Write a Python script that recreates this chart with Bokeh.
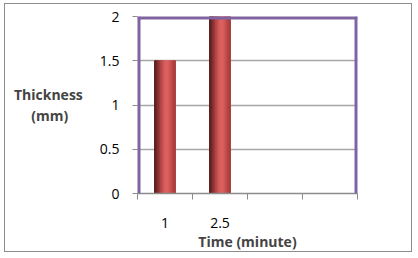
from bokeh.plotting import figure
from bokeh.models import FixedTicker, Span, Range1d
from bokeh.embed import file_html
from bokeh.resources import INLINE

# data
time_labels = ["1", "2.5", "", ""]
thickness = [1.5, 2.0]
y_ticks = [0, 0.5, 1, 1.5, 2]
y_tick_labels = ["0", "0.5", "1", "1.5", "2"]
y_title = "Thickness\n(mm)\u00a0\u00a0\u00a0\u00a0"
x_title = "Time (minute)"

n_slots = len(time_labels)
centers = [i + 0.5 for i in range(len(thickness))]

p = figure(width=408, height=249, output_backend="svg", toolbar_location=None,
           x_range=Range1d(0, n_slots), y_range=Range1d(0, 2),
           min_border_left=132, min_border_right=56, min_border_top=12, min_border_bottom=58)
p.background_fill_color = "white"
p.border_fill_color = "white"
p.outline_line_color = None
p.styles = {"border": "1px solid #8c8c8c", "margin-left": "4px", "margin-top": "3px"}

# cylinder-like shaded bars built from stripes
bar_w = 0.38
grad = ["#5a1e1e", "#6e2626", "#843030", "#9a3a3a", "#b04444", "#c24e4e", "#d05858",
        "#da6060", "#dc6262", "#d85e5e", "#d05656", "#c44c4c", "#b84646", "#aa3e3e"]
ns = len(grad)
sw = bar_w / ns
for k, c in enumerate(grad):
    xs = [cx - bar_w / 2 + sw * (k + 0.5) for cx in centers]
    p.vbar(x=xs, top=thickness, bottom=0, width=sw, fill_color=c, line_color=c, line_width=1)

# grid
p.xgrid.visible = False
p.ygrid.ticker = FixedTicker(ticks=y_ticks)
p.ygrid.grid_line_color = "#a6a6a6"
p.ygrid.grid_line_width = 1.6

# y axis
yax = p.yaxis[0]
yax.ticker = FixedTicker(ticks=y_ticks)
yax.major_label_overrides = {t: l for t, l in zip(y_ticks, y_tick_labels)}
yax.axis_line_color = None
yax.major_tick_line_color = "#8c8c8c"
yax.major_tick_out = 5
yax.major_tick_in = 0
yax.minor_tick_line_color = None
yax.major_label_text_font = "Open Sans"
yax.major_label_text_font_size = "14px"
yax.major_label_text_color = "#000000"
yax.major_label_standoff = 13
yax.axis_label = y_title
yax.axis_label_text_font = "Open Sans"
yax.axis_label_text_font_style = "bold"
yax.axis_label_text_font_size = "14px"
yax.axis_label_text_align = "center"
yax.axis_label_text_line_height = 1.15
yax.axis_label_standoff = 14
if hasattr(yax, "axis_label_orientation"):
    yax.axis_label_orientation = "horizontal"

# x axis: labels at slot centers, tick marks at slot boundaries
xax = p.xaxis[0]
xax.ticker = FixedTicker(ticks=[i + 0.5 for i in range(n_slots)],
                         minor_ticks=list(range(n_slots + 1)))
xax.major_label_overrides = {i + 0.5: l for i, l in enumerate(time_labels)}
xax.major_tick_line_color = None
xax.minor_tick_line_color = "#8c8c8c"
xax.minor_tick_out = 6
xax.minor_tick_in = 0
xax.axis_line_color = "#8c8c8c"
xax.axis_line_width = 1.5
xax.major_label_text_font = "Open Sans"
xax.major_label_text_font_size = "14px"
xax.major_label_text_color = "#000000"
xax.major_label_standoff = 18
xax.axis_label = x_title
xax.axis_label_text_font = "Open Sans"
xax.axis_label_text_font_style = "bold"
xax.axis_label_text_font_size = "14px"
xax.axis_label_standoff = 1

# purple frame on left, top and right (half of each line is clipped by the frame)
purple = "#8064a2"
p.add_layout(Span(location=0, dimension="height", line_color=purple, line_width=6))
p.add_layout(Span(location=n_slots, dimension="height", line_color=purple, line_width=6))
p.add_layout(Span(location=2, dimension="width", line_color=purple, line_width=6))

open("out.html", "w").write(file_html(p, INLINE))
